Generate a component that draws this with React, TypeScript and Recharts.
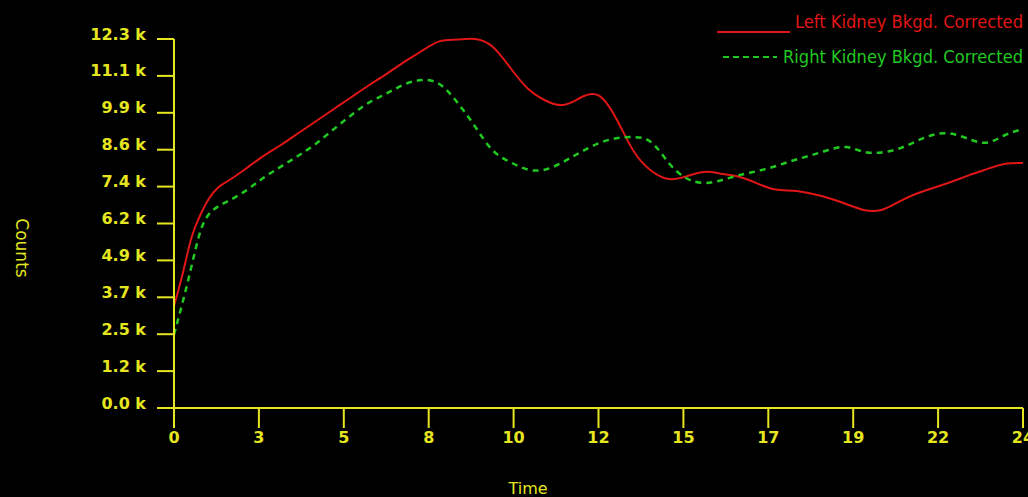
import React from "react";
import { LineChart, Line, XAxis, YAxis } from "recharts";

// minutes
const times = [
  0, 0.25, 0.5, 0.75, 1, 1.25, 1.5, 2, 2.5, 3, 3.5, 4, 4.5, 5, 5.5, 6, 6.5, 7,
  7.5, 8, 8.5, 9, 9.5, 10, 10.5, 11, 11.5, 12, 12.5, 13, 13.5, 14, 14.5, 15,
  15.5, 16, 16.5, 17, 17.5, 18, 18.5, 19, 19.5, 20, 20.5, 21, 21.5, 22, 22.5,
  23, 23.5, 24,
];

const leftKidney = [
  3400, 4500, 5700, 6450, 7000, 7350, 7550, 7950, 8380, 8750, 9150, 9550,
  9950, 10350, 10750, 11130, 11530, 11900, 12220, 12280, 12300, 12050, 11350,
  10650, 10250, 10100, 10350, 10420, 9650, 8550, 7900, 7630, 7730, 7870, 7800,
  7700, 7480, 7280, 7240, 7150, 7000, 6800, 6600, 6600, 6880, 7150, 7350, 7550,
  7770, 7970, 8140, 8170,
];

const rightKidney = [
  2450, 3550, 4750, 5900, 6480, 6720, 6880, 7220, 7650, 8030, 8400, 8800,
  9280, 9750, 10170, 10480, 10780, 10930, 10800, 10200, 9400, 8600, 8200,
  7950, 7950, 8200, 8530, 8820, 8990, 9030, 8850, 8150, 7650, 7500, 7600, 7770,
  7900, 8060, 8250, 8420, 8600, 8700, 8540, 8520, 8650, 8900, 9120, 9140, 8950,
  8850, 9100, 9300,
];

const xTickLabels = ["0", "3", "5", "8", "10", "12", "15", "17", "19", "22", "24"];
const yTickLabels = [
  "0.0 k", "1.2 k", "2.5 k", "3.7 k", "4.9 k", "6.2 k",
  "7.4 k", "8.6 k", "9.9 k", "11.1 k", "12.3 k",
];
const xMax = 24;
const yMax = 12300;

const seriesNames = ["Left Kidney Bkgd. Corrected", "Right Kidney Bkgd. Corrected"];

const data = times.map((t, i) => ({
  t,
  left: leftKidney[i],
  right: rightKidney[i],
}));

const xTicks = xTickLabels.map((_, i) => (i * xMax) / (xTickLabels.length - 1));
const yTicks = yTickLabels.map((_, i) => (i * yMax) / (yTickLabels.length - 1));

const YELLOW = "#e6e620";
const RED = "#e01616";
const GREEN = "#22c822";
const tickFont = { fontFamily: "DejaVu Sans", fontSize: 16, fontWeight: "bold" as const };

const YTick = (props: any) => {
  const { x, y, index } = props;
  return (
    <text x={x} y={y - 5} textAnchor="end" dominantBaseline="central" fill={YELLOW} {...tickFont}>
      {yTickLabels[index]}
    </text>
  );
};

const XTick = (props: any) => {
  const { x, y, index } = props;
  return (
    <text x={x} y={y} dy="0.75em" textAnchor="middle" fill={YELLOW} {...tickFont}>
      {xTickLabels[index]}
    </text>
  );
};

const CountsLabel = ({ viewBox }: any) => {
  const cx = viewBox.x + 22;
  const cy = viewBox.y + 209;
  return (
    <text
      x={cx}
      y={cy}
      transform={`rotate(90 ${cx} ${cy})`}
      textAnchor="middle"
      dominantBaseline="central"
      fill={YELLOW}
      fontFamily="DejaVu Sans"
      fontSize={17}
    >
      Counts
    </text>
  );
};

const TimeLabel = ({ viewBox }: any) => {
  const cx = viewBox.x + 354;
  const cy = viewBox.y + 80;
  return (
    <text x={cx} y={cy} textAnchor="middle" dominantBaseline="central" fill={YELLOW} fontFamily="DejaVu Sans" fontSize={16}>
      Time
    </text>
  );
};

const LegendBox = () => (
  <svg width={320} height={70} style={{ position: "absolute", left: 706, top: 0 }}>
    <line x1={11} y1={32} x2={84} y2={32} stroke={RED} strokeWidth={2} />
    <text x={89} y={28} fill={RED} fontFamily="DejaVu Sans Condensed" fontSize={18} textLength={228} lengthAdjust="spacingAndGlyphs">
      {seriesNames[0]}
    </text>
    <line x1={17} y1={57} x2={71} y2={57} stroke={GREEN} strokeWidth={2} strokeDasharray="6 4" />
    <text x={77} y={63} fill={GREEN} fontFamily="DejaVu Sans Condensed" fontSize={18} textLength={240} lengthAdjust="spacingAndGlyphs">
      {seriesNames[1]}
    </text>
  </svg>
);

export default function App() {
  return (
    <div style={{ position: "fixed", left: 0, top: 0, width: 1028, height: 497, background: "#000" }}>
      <LineChart width={1028} height={497} data={data} margin={{ top: 39, right: 5, bottom: 0, left: 0 }}>
        <XAxis
          dataKey="t"
          type="number"
          domain={[0, xMax]}
          ticks={xTicks}
          interval={0}
          height={89}
          tickSize={20}
          tickMargin={3}
          axisLine={{ stroke: YELLOW, strokeWidth: 2 }}
          tickLine={{ stroke: YELLOW, strokeWidth: 2 }}
          tick={<XTick />}
          label={<TimeLabel />}
        />
        <YAxis
          type="number"
          domain={[0, yMax]}
          ticks={yTicks}
          interval={0}
          width={174}
          tickSize={17}
          tickMargin={11}
          axisLine={{ stroke: YELLOW, strokeWidth: 2 }}
          tickLine={{ stroke: YELLOW, strokeWidth: 2 }}
          tick={<YTick />}
          label={<CountsLabel />}
        />
        <Line
          type="natural"
          dataKey="left"
          name={seriesNames[0]}
          stroke={RED}
          strokeWidth={2}
          dot={false}
          isAnimationActive={false}
        />
        <Line
          type="natural"
          dataKey="right"
          name={seriesNames[1]}
          stroke={GREEN}
          strokeWidth={2.5}
          strokeDasharray="6 5"
          dot={false}
          isAnimationActive={false}
        />
      </LineChart>
      <LegendBox />
    </div>
  );
}
